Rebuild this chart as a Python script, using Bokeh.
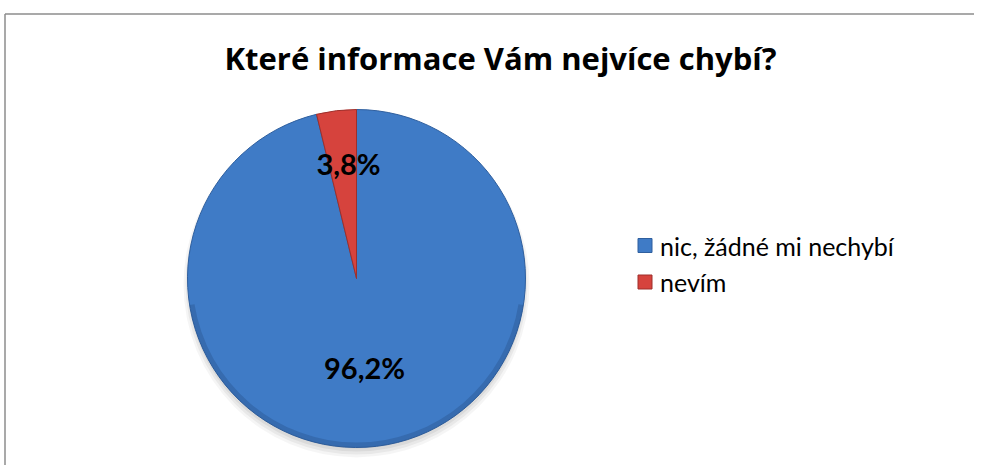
import math
from bokeh.plotting import figure
from bokeh.models import Range1d, ColumnDataSource
from bokeh.core.properties import value
from bokeh.embed import file_html
from bokeh.resources import INLINE

# ---- data ----
title_text = "Které informace Vám nejvíce chybí?"
categories = ["nic, žádné mi nechybí", "nevím"]
shares = [96.2, 3.8]
labels = ["96,2%", "3,8%"]
colors = ["#3f7bc6", "#d6433d"]
edge_colors = ["#2f5f9e", "#9e2f2b"]

W, H = 974, 465
p = figure(width=W, height=H, output_backend="svg", toolbar_location=None,
           x_range=Range1d(0, W), y_range=Range1d(-H, 0),
           min_border=0, min_border_left=0, min_border_right=0,
           min_border_top=0, min_border_bottom=0)
p.axis.visible = False
p.grid.visible = False
p.outline_line_color = None
p.background_fill_color = "white"
p.border_fill_color = "white"

# chart frame (left and top edges visible)
p.segment(x0=[4.5, 4.5], y0=[-13.5, -13.5], x1=[4.5, W], y1=[-H, -13.5],
          line_color="#8c8c8c", line_width=1.5)

# pie geometry
cx, cy, r = 356, -278, 169

# soft shadow
for i, a in enumerate([0.04, 0.05, 0.06, 0.07]):
    p.circle(x=[cx], y=[cy - 6 + i], radius=r + 4 - i * 2, fill_color="#000000",
             fill_alpha=a, line_color=None)

# wedges: start at 12 o'clock, clockwise
total = sum(shares)
starts, ends = [], []
cum = 0.0
for s in shares:
    a0 = cum / total
    cum += s
    a1 = cum / total
    starts.append(math.pi / 2 - a1 * 2 * math.pi)
    ends.append(math.pi / 2 - a0 * 2 * math.pi)

src = ColumnDataSource(dict(start=starts, end=ends, color=colors, edge=edge_colors,
                            cat=categories))
p.wedge(x=cx, y=cy, radius=r, start_angle="start", end_angle="end",
        fill_color="color", line_color="edge", line_width=1, source=src)

# bevel-like darker rim on the lower half
p.annular_wedge(x=cx, y=cy, inner_radius=r - 5, outer_radius=r,
                start_angle=math.pi * 1.05, end_angle=math.pi * 1.95,
                fill_color="#244d85", fill_alpha=0.35, line_color=None)

# data labels
p.text(x=[364, 348], y=[-367, -163], text=labels,
       text_font=value("Lato"), text_font_style="bold", text_font_size="29px",
       text_color="black", text_align="center", text_baseline="middle")

# title
p.text(x=[500], y=[-57], text=[title_text], text_font=value("Open Sans"),
       text_font_style="bold", text_font_size="31px", text_color="black",
       text_align="center", text_baseline="middle")

# legend
lx = 644.5
ly = [-245, -281.5]
p.rect(x=[lx, lx], y=ly, width=14, height=14, fill_color=colors,
       line_color=edge_colors, line_width=1)
p.text(x=[lx + 15, lx + 15], y=ly, text=categories, text_font=value("Lato"),
       text_font_size="25px", text_color="black", text_align="left",
       text_baseline="middle")

open("out.html", "w").write(file_html(p, INLINE))
